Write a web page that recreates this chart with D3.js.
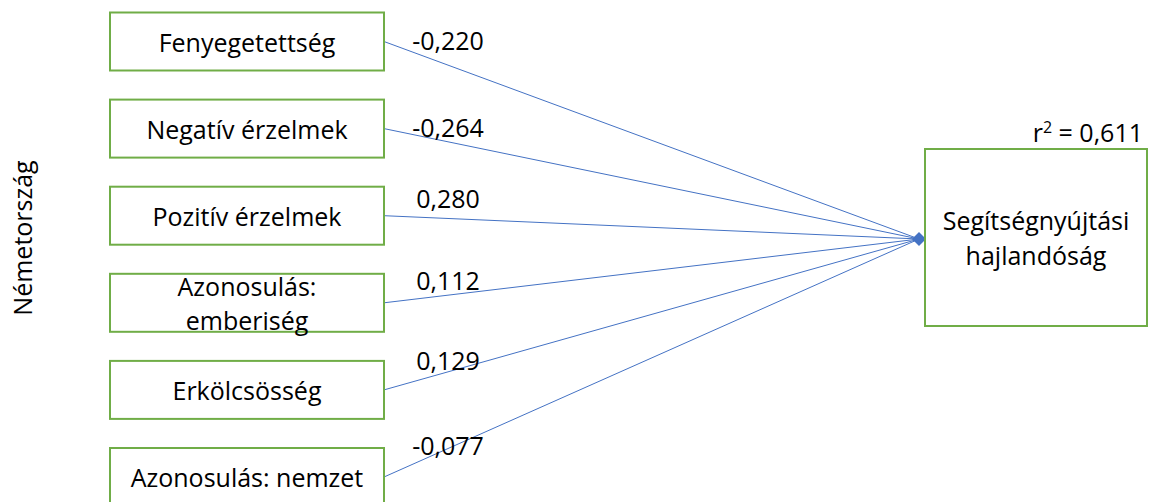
<!DOCTYPE html>
<html>
<head>
<meta charset="utf-8">
<script src="https://cdn.jsdelivr.net/npm/d3@7"></script>
<style>
  body { margin: 0; background: #fff; }
  svg text { font-family: "Open Sans", sans-serif; fill: #000; }
</style>
</head>
<body>
<div id="viz"></div>
<script>

// predictors (left boxes), one text line per entry
var predictors = [
  ["Fenyegetettség"],
  ["Negatív érzelmek"],
  ["Pozitív érzelmek"],
  ["Azonosulás:", "emberiség"],
  ["Erkölcsösség"],
  ["Azonosulás: nemzet"]
];
// path coefficients
var coefs = [-0.220, -0.264, 0.280, 0.112, 0.129, -0.077];
var outcome = ["Segítségnyújtási", "hajlandóság"];
var rsquared = 0.611;
var groupLabel = "Németország";

// layout
var width = 1154, height = 502;
var fontSize = 25, lineGap = 34;
var blue = "#4472C4", green = "#70AD47";
var boxLeft = 110, boxW = 274, boxH = 58;
var target = {x: 925, y: 239, x1: 925, x2: 1147, y1: 149, y2: 326};
var labelX = 448;
// hand placed label nudges (baseline offset from box centre)
var labelShift = [8.5, 8.4, -7.7, -12.8, -19.9, -22];

var fmt = d3.formatLocale({decimal: ",", thousands: " ", grouping: [3], currency: ["", ""], minus: "-"}).format(".3f");

var svg = d3.select("#viz")
  .append("svg")
    .attr("width", width)
    .attr("height", height);

var y = d3.scalePoint()
  .domain(d3.range(predictors.length))
  .range([41.5, 477]);

// paths (drawn first so boxes sit on top)
svg.append("g")
  .selectAll("line")
  .data(coefs)
  .enter()
  .append("line")
    .attr("x1", boxLeft + boxW)
    .attr("y1", function(d, i) { return y(i); })
    .attr("x2", target.x - 6)
    .attr("y2", target.y)
    .attr("stroke", blue)
    .attr("stroke-width", 1);

// arrow head
svg.append("path")
  .attr("d", d3.line()([[target.x - 13, target.y], [target.x - 6, target.y - 7], [target.x + 1, target.y], [target.x - 6, target.y + 7]]) + "Z")
  .attr("fill", blue);

// predictor boxes
var boxes = svg.append("g")
  .selectAll("g")
  .data(predictors)
  .enter()
  .append("g")
    .attr("transform", function(d, i) { return "translate(" + boxLeft + "," + y(i) + ")"; });

boxes.append("rect")
  .attr("x", 0)
  .attr("y", -boxH / 2)
  .attr("width", boxW)
  .attr("height", boxH)
  .attr("fill", "none")
  .attr("stroke", green)
  .attr("stroke-width", 2);

boxes.each(function(lines) {
  var g = d3.select(this);
  lines.forEach(function(t, j) {
    g.append("text")
      .attr("x", boxW / 2)
      .attr("y", 10 + (j - (lines.length - 1) / 2) * lineGap)
      .attr("text-anchor", "middle")
      .style("font-size", fontSize + "px")
      .text(t);
  });
});

// coefficient labels
svg.append("g")
  .selectAll("text")
  .data(coefs)
  .enter()
  .append("text")
    .attr("x", labelX)
    .attr("y", function(d, i) { return y(i) + labelShift[i]; })
    .attr("text-anchor", "middle")
    .style("font-size", fontSize + "px")
    .text(function(d) { return fmt(d); });

// outcome box
svg.append("rect")
  .attr("x", target.x1)
  .attr("y", target.y1)
  .attr("width", target.x2 - target.x1)
  .attr("height", target.y2 - target.y1)
  .attr("fill", "none")
  .attr("stroke", green)
  .attr("stroke-width", 2);

outcome.forEach(function(t, j) {
  svg.append("text")
    .attr("x", (target.x1 + target.x2) / 2)
    .attr("y", (target.y1 + target.y2) / 2 + 10 + (j - 0.5) * 35)
    .attr("text-anchor", "middle")
    .style("font-size", fontSize + "px")
    .text(t);
});

var r2 = svg.append("text")
  .attr("x", target.x2 - 4)
  .attr("y", target.y1 - 7)
  .attr("text-anchor", "end")
  .style("font-size", fontSize + "px");
r2.append("tspan").text("r");
r2.append("tspan").attr("dy", -9).style("font-size", "16px").text("2");
r2.append("tspan").attr("dy", 9).text(" = " + fmt(rsquared));

// group label (rotated)
svg.append("text")
  .attr("transform", "translate(32,238) rotate(-90)")
  .attr("text-anchor", "middle")
  .style("font-size", fontSize + "px")
  .text(groupLabel);

</script>
</body>
</html>
